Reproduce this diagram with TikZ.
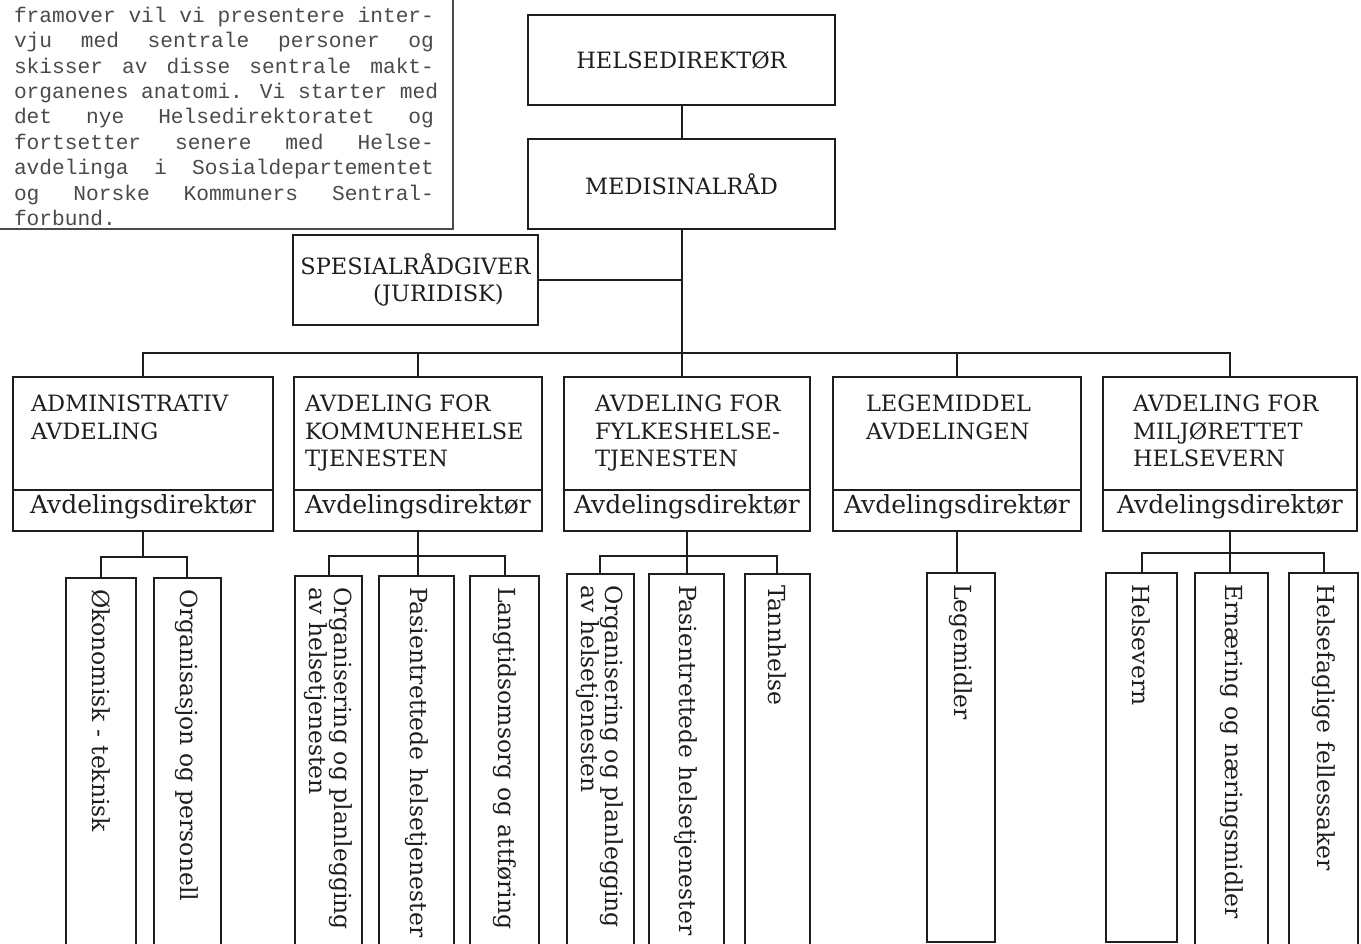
\documentclass[tikz,border=0pt]{standalone}
\usepackage{fontspec}
\setmainfont{DejaVu Serif}
\newfontfamily\intromono{Liberation Mono}
\usetikzlibrary{positioning}

\definecolor{ink}{HTML}{1E1E1E}
\definecolor{typeink}{HTML}{4A4A4A}
\newcommand\chartfont{\fontsize{22.5}{27.5}\selectfont}
\newcommand\dirfont{\fontsize{25}{28}\selectfont}
\newcommand\subfont{\fontsize{23.5}{24.5}\selectfont}
\newcommand\introfont{\intromono\fontsize{21.2}{25.4}\selectfont}
\newcommand\jline[1]{\makebox[420pt][s]{\spaceskip=0.6em plus 1fil\relax #1}}

\tikzset{
  topbox/.style={draw,minimum width=307pt,minimum height=90pt,inner sep=0pt,align=center,font=\chartfont},
  deptbox/.style={draw,minimum height=154pt,anchor=north west,inner sep=0pt},
  depttitle/.style={anchor=north west,align=left,inner sep=0pt,font=\chartfont},
  director/.style={inner sep=0pt,font=\dirfont},
  subbox/.style={draw,rotate=-90,anchor=west,minimum height=#1,text width=398pt,inner xsep=11pt,inner ysep=0pt,align=left,font=\subfont},
  subshort/.style={subbox=#1,text width=347pt},
  intro/.style={anchor=north west,align=left,inner sep=0pt,font=\introfont,text=typeink}
}

\begin{document}
\begin{tikzpicture}[x=1pt,y=-1pt,line width=2pt,color=ink]
\useasboundingbox (0,0) rectangle (1361,944);
\clip (0,0) rectangle (1361,944);

\node[intro] (introtext) at (13,6) {\jline{framover vil vi presentere inter-}\\
\jline{vju med sentrale personer og}\\
\jline{skisser av disse sentrale makt-}\\
\jline{organenes anatomi. Vi starter med}\\
\jline{det nye Helsedirektoratet og}\\
\jline{fortsetter senere med Helse-}\\
\jline{avdelinga i Sosialdepartementet}\\
\jline{og Norske Kommuners Sentral-}\\
forbund.};
\draw[typeink,line width=1.4pt] (0,229) -| (453,0);

\node[topbox] (helsedir) at (681.5,60) {HELSEDIREKTØR};
\node[topbox,below=32pt of helsedir] (medisinal) {MEDISINALRÅD};
\node[topbox,minimum width=245pt] (spesial) at (415.5,280) {SPESIALRÅDGIVER\\\hspace*{46pt}(JURIDISK)};

\node[deptbox,minimum width=260pt] (adm) at (12,376) {};
\node[deptbox,minimum width=248pt] (kommune) at (293,376) {};
\node[deptbox,minimum width=246pt] (fylke) at (563,376) {};
\node[deptbox,minimum width=248pt] (legemiddel) at (832,376) {};
\node[deptbox,minimum width=254pt] (miljo) at (1102,376) {};

\foreach \d/\dx/\t in {adm/18/{ADMINISTRATIV\\AVDELING},
    kommune/11/{AVDELING FOR\\KOMMUNEHELSE\\TJENESTEN},
    fylke/31/{AVDELING FOR\\FYLKESHELSE-\\TJENESTEN},
    legemiddel/33/{LEGEMIDDEL\\AVDELINGEN},
    miljo/30/{AVDELING FOR\\MILJØRETTET\\HELSEVERN}}{
  \node[depttitle] (\d-title) at ([shift={(\dx,18)}]\d.north west) {\t};
  \draw ([yshift=42pt]\d.south west) -- ([yshift=42pt]\d.south east);
  \node[director] (\d-dir) at ([yshift=25pt]\d.south) {Avdelingsdirektør};
}

\node[subbox=70pt] (oko) at (101,577) {Økonomisk - teknisk};
\node[subbox=67pt] (org) at (187,577) {Organisasjon og personell};
\node[subbox=67pt] (orgp1) at (328.5,575) {Organisering og planlegging\\av helsetjenesten};
\node[subbox=75pt] (pas1) at (416.5,575) {Pasientrettede helsetjenester};
\node[subbox=69pt] (lang1) at (504.5,575) {Langtidsomsorg og attføring};
\node[subbox=67pt] (orgp2) at (600,573) {Organisering og planlegging\\av helsetjenesten};
\node[subbox=75pt] (pas2) at (686,573) {Pasientrettede helsetjenester};
\node[subbox=65pt] (tann) at (777,573) {Tannhelse};
\node[subshort=68pt] (leg) at (961,572) {Legemidler};
\node[subshort=71pt] (helsev) at (1141.5,572) {Helsevern};
\node[subbox=73pt] (ern) at (1231.5,572) {Ernæring og næringsmidler};
\node[subbox=69pt] (helsef) at (1323.5,572) {Helsefaglige fellessaker};

\coordinate (bar) at (0,353);
\coordinate (g1) at (0,557);
\coordinate (g2) at (0,556);
\coordinate (g3) at (0,556);
\coordinate (g5) at (0,553);

\draw (helsedir.south) -- (medisinal.north);
\draw (medisinal.south) -- (medisinal.south |- fylke.north);
\draw (spesial.east) -- (spesial.east -| medisinal.south);
\draw (adm.north) |- (bar -| miljo.north) -- (miljo.north);
\foreach \d in {kommune,legemiddel}
  \draw (\d.north) -- (\d.north |- bar);

\draw (adm.south) -- (adm.south |- g1);
\draw (oko.west) |- (g1 -| org.west) -- (org.west);
\draw (kommune.south) -- (kommune.south |- pas1.west);
\draw (orgp1.west) |- (g2 -| lang1.west) -- (lang1.west);
\draw (fylke.south) -- (fylke.south |- pas2.west);
\draw (orgp2.west) |- (g3 -| tann.west) -- (tann.west);
\draw (legemiddel.south) -- (legemiddel.south |- leg.west);
\draw (miljo.south) -- (miljo.south |- ern.west);
\draw (helsev.west) |- (g5 -| helsef.west) -- (helsef.west);
\end{tikzpicture}
\end{document}
